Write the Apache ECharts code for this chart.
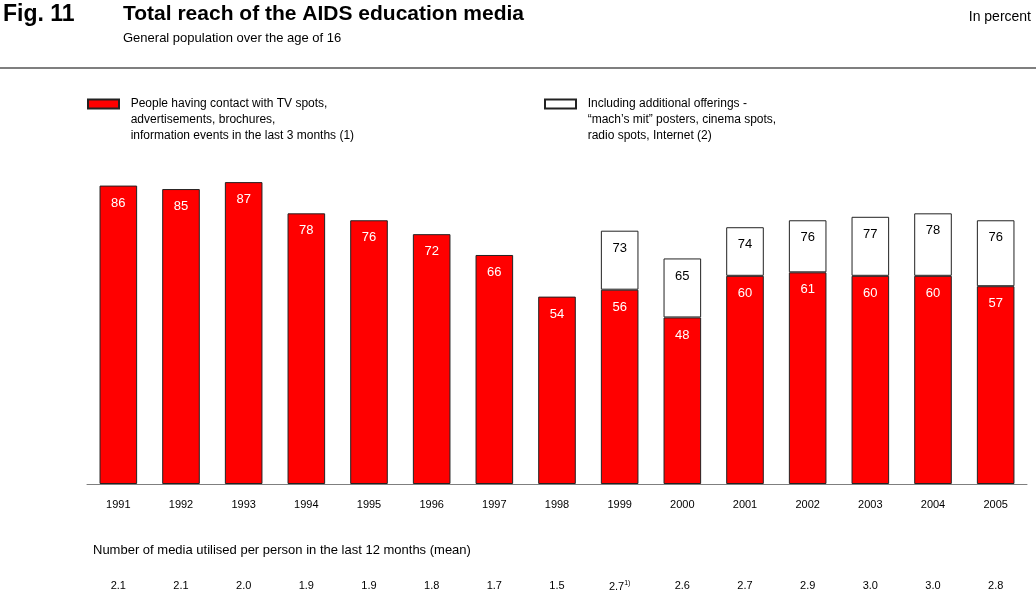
<!DOCTYPE html>
<html>
<head>
<meta charset="utf-8">
<script src="https://cdn.jsdelivr.net/npm/echarts@6/dist/echarts.min.js"></script>
<style>
  html, body { margin: 0; padding: 0; background: #fff; }
  #chart { width: 1036px; height: 595px; }
</style>
</head>
<body>
<div id="chart"></div>
<script>
// Survey years
const years = ['1991', '1992', '1993', '1994', '1995', '1996', '1997', '1998',
               '1999', '2000', '2001', '2002', '2003', '2004', '2005'];
// Reach via TV spots, ads, brochures, information events (percent)
const coreReach = [86, 85, 87, 78, 76, 72, 66, 54, 56, 48, 60, 61, 60, 60, 57];
// Total reach including additional offerings (percent); not surveyed before 1999
const totalReach = [null, null, null, null, null, null, null, null, 73, 65, 74, 76, 77, 78, 76];
// Mean number of media used per person in the last 12 months
const mediaMean = ['2.1', '2.1', '2.0', '1.9', '1.9', '1.8', '1.7', '1.5', '2.7', '2.6', '2.7', '2.9', '3.0', '3.0', '2.8'];
// Footnote marks attached to the mean values
const mediaNote = ['', '', '', '', '', '', '', '', '1)', '', '', '', '', '', ''];

const seriesCoreName = 'People having contact with TV spots,\nadvertisements, brochures,\ninformation events in the last 3 months (1)';
const seriesTotalName = 'Including additional offerings -\n\u201cmach\u2019s mit\u201d posters, cinema spots,\nradio spots, Internet (2)';

const FONT = 'Liberation Sans, Arial, sans-serif';

// Upper segment spans from the core reach up to the total reach
const extraPart = totalReach.map((t, i) => (t == null ? null : t - coreReach[i]));

const chart = echarts.init(document.getElementById('chart'), null, { renderer: 'canvas' });

// Two empty leading lines keep the first text line level with the legend swatch;
// a small indent widens the gap between swatch and text
const legendText = { fontFamily: FONT, fontSize: 12, color: '#000', lineHeight: 16 };
const legendFormatter = name => '\n\n' + name.split('\n').map(l => '  ' + l).join('\n');

chart.setOption({
  animation: false,
  backgroundColor: '#fff',
  title: [
    { text: 'Fig. 11', left: -2, top: -2,
      textStyle: { fontFamily: FONT, fontSize: 23, fontWeight: 'bold', color: '#000' } },
    { text: 'Total reach of the AIDS education media', left: 118, top: -1,
      subtext: 'General population over the age of 16', itemGap: 7,
      textStyle: { fontFamily: FONT, fontSize: 21, fontWeight: 'bold', color: '#000' },
      subtextStyle: { fontFamily: FONT, fontSize: 13, color: '#000' } },
    { text: 'In percent', right: 0, top: 5,
      textStyle: { fontFamily: FONT, fontSize: 14, fontWeight: 'normal', color: '#000' } },
    { text: 'Number of media utilised per person in the last 12 months (mean)', left: 88, top: 539,
      textStyle: { fontFamily: FONT, fontSize: 13, fontWeight: 'normal', color: '#000' } }
  ],
  graphic: [
    { type: 'line', shape: { x1: 0, y1: 68, x2: 1036, y2: 68 },
      style: { stroke: '#7f7f7f', lineWidth: 2 } }
  ],
  legend: [
    { data: [{ name: seriesCoreName, icon: 'rect' }], left: 82, top: 59,
      itemWidth: 31, itemHeight: 9, textStyle: legendText, formatter: legendFormatter,
      itemGap: 0, selectedMode: false },
    { data: [{ name: seriesTotalName, icon: 'rect' }], left: 539, top: 59,
      itemWidth: 31, itemHeight: 9, textStyle: legendText, formatter: legendFormatter,
      itemGap: 0, selectedMode: false }
  ],
  grid: { left: 87, right: 9, top: 137, bottom: 111, containLabel: false },
  xAxis: [
    {
      type: 'category', data: years, position: 'bottom',
      axisLine: { show: true, lineStyle: { color: '#7f7f7f', width: 1 } },
      axisTick: { show: false },
      axisLabel: { fontFamily: FONT, fontSize: 11, color: '#000', margin: 15, interval: 0 }
    },
    {
      type: 'category', data: mediaMean, position: 'bottom', offset: 83,
      axisLine: { show: false }, axisTick: { show: false },
      axisLabel: {
        fontFamily: FONT, fontSize: 11, color: '#000', margin: 13, interval: 0,
        formatter: (v, i) => mediaNote[i] ? v + '{sup|' + mediaNote[i] + '}' : v,
        rich: { sup: { fontFamily: FONT, fontSize: 7, color: '#000', verticalAlign: 'top', padding: [0, 0, 6, 0] } }
      }
    }
  ],
  yAxis: { type: 'value', min: 0, max: 100, show: false, splitLine: { show: false } },
  series: [
    {
      name: seriesCoreName, type: 'bar', stack: 'reach', data: coreReach,
      barWidth: '60%',
      itemStyle: { color: '#ff0000', borderColor: '#222', borderWidth: 1 },
      label: { show: true, position: 'insideTop', distance: 11,
               fontFamily: FONT, fontSize: 13, color: '#fff' }
    },
    {
      name: seriesTotalName, type: 'bar', stack: 'reach', data: extraPart,
      barWidth: '60%',
      itemStyle: { color: '#fff', borderColor: '#222', borderWidth: 1 },
      label: { show: true, position: 'insideTop', distance: 11,
               fontFamily: FONT, fontSize: 13, color: '#000',
               formatter: p => totalReach[p.dataIndex] }
    }
  ]
});
</script>
</body>
</html>
